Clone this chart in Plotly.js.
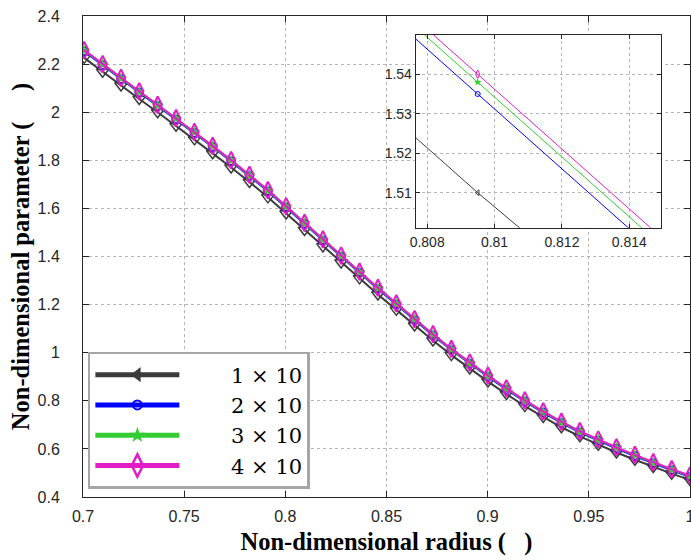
<!DOCTYPE html>
<html>
<head>
<meta charset="utf-8">
<script src="https://cdn.plot.ly/plotly-3.0.1.min.js"></script>
<style>html,body{margin:0;padding:0;background:#fff;}#chart{width:691px;height:560px;}</style>
</head>
<body>
<div id="chart"></div>
<script>
// Non-dimensional radius (x)
const radius = [0.7006, 0.7097, 0.7188, 0.7278, 0.7369, 0.7460, 0.7551, 0.7641, 0.7732, 0.7823,
  0.7914, 0.8004, 0.8095, 0.8186, 0.8276, 0.8367, 0.8458, 0.8549, 0.8639, 0.8730,
  0.8821, 0.8912, 0.9002, 0.9093, 0.9184, 0.9275, 0.9365, 0.9456, 0.9547, 0.9637,
  0.9728, 0.9819, 0.9910, 1.0000];

// Series: Non-dimensional parameter
const series1 = [2.226, 2.168, 2.111, 2.055, 2.000, 1.944, 1.887, 1.829, 1.770, 1.710,
  1.646, 1.579, 1.510, 1.442, 1.375, 1.309, 1.242, 1.178, 1.113, 1.051,
  0.990, 0.934, 0.880, 0.828, 0.778, 0.733, 0.690, 0.652, 0.617, 0.585,
  0.555, 0.525, 0.497, 0.471];
const series2 = [2.253, 2.195, 2.138, 2.082, 2.026, 1.970, 1.913, 1.855, 1.796, 1.735,
  1.671, 1.604, 1.535, 1.466, 1.399, 1.332, 1.265, 1.200, 1.135, 1.072,
  1.011, 0.954, 0.900, 0.847, 0.797, 0.751, 0.708, 0.669, 0.634, 0.601,
  0.570, 0.540, 0.511, 0.484];
const series3 = [2.256, 2.198, 2.141, 2.085, 2.029, 1.973, 1.916, 1.858, 1.799, 1.738,
  1.674, 1.607, 1.538, 1.469, 1.402, 1.335, 1.268, 1.203, 1.138, 1.075,
  1.014, 0.957, 0.903, 0.850, 0.800, 0.754, 0.711, 0.672, 0.637, 0.604,
  0.573, 0.543, 0.514, 0.487];
const series4 = [2.258, 2.200, 2.143, 2.087, 2.031, 1.975, 1.918, 1.860, 1.801, 1.740,
  1.676, 1.609, 1.540, 1.471, 1.404, 1.337, 1.270, 1.205, 1.140, 1.077,
  1.016, 0.959, 0.905, 0.852, 0.802, 0.756, 0.713, 0.674, 0.639, 0.606,
  0.575, 0.545, 0.516, 0.489];

const seriesNames = ['1 \u00d7 10', '2 \u00d7 10', '3 \u00d7 10', '4 \u00d7 10'];
const xTitle = '\u00a0\u00a0Non-dimensional radius (\u00a0\u00a0\u00a0)';
const yTitle = 'Non-dimensional parameter (\u00a0\u00a0\u00a0\u00a0\u00a0)\u00a0\u00a0\u00a0';

const colors = ['#3c3c3c', '#0000ff', '#33cc33', '#e21cc6'];
const allSeries = [series1, series2, series3, series4];
const mainMarkers = [
  {symbol: 'triangle-down-open', size: 11, line: {width: 1.5}},
  {symbol: 'circle-open', size: 8, line: {width: 1.5}},
  {symbol: 'star', size: 9, line: {width: 0}},
  {symbol: 'diamond-tall-open', size: 12, line: {width: 2}}
];
const insetMarkers = [
  {symbol: 'triangle-left-open', size: 5, line: {width: 1}},
  {symbol: 'circle-open', size: 5, line: {width: 1}},
  {symbol: 'star', size: 6, line: {width: 0}},
  {symbol: 'diamond-tall-open', size: 6, line: {width: 1}}
];
const legendMarkers = [
  {symbol: 'triangle-left', size: 13, line: {width: 0}},
  {symbol: 'circle-open', size: 9, line: {width: 2}},
  {symbol: 'star', size: 12, line: {width: 0}},
  {symbol: 'diamond-tall-open', size: 17, line: {width: 2.5}}
];

const traces = [];
allSeries.forEach((ys, i) => {
  traces.push({
    x: radius, y: ys, type: 'scatter', mode: 'lines+markers', showlegend: false,
    line: {color: colors[i], width: 2},
    marker: Object.assign({color: colors[i]}, mainMarkers[i], {line: Object.assign({color: colors[i]}, mainMarkers[i].line)}),
    xaxis: 'x', yaxis: 'y', hoverinfo: 'skip'
  });
});
allSeries.forEach((ys, i) => {
  traces.push({
    x: radius, y: ys, type: 'scatter', mode: 'lines+markers', showlegend: false,
    line: {color: colors[i], width: 1},
    marker: Object.assign({color: colors[i]}, insetMarkers[i], {line: Object.assign({color: colors[i]}, insetMarkers[i].line)}),
    xaxis: 'x2', yaxis: 'y2', hoverinfo: 'skip'
  });
});
// legend entries
allSeries.forEach((ys, i) => {
  traces.push({
    x: [null], y: [null], type: 'scatter', mode: 'lines+markers', name: '\u00a0\u00a0\u00a0\u00a0\u00a0\u00a0\u00a0' + seriesNames[i],
    line: {color: colors[i], width: 5},
    marker: Object.assign({color: colors[i]}, legendMarkers[i], {line: Object.assign({color: colors[i]}, legendMarkers[i].line)}),
    xaxis: 'x', yaxis: 'y'
  });
});

const tickFont = {family: 'Liberation Sans, Arial, sans-serif', size: 16, color: '#262626'};
const titleFont = {family: 'Liberation Serif, Times New Roman, serif', size: 24.5, color: '#000', weight: 'bold'};
const gridStyle = {showgrid: true, gridcolor: '#b4b4b4', griddash: 'dot', gridwidth: 1, zeroline: false,
  showline: true, linecolor: '#262626', linewidth: 1, mirror: 'ticks', ticks: 'inside', tickcolor: '#262626'};

const layout = {
  width: 691, height: 560,
  margin: {l: 83, r: 1, t: 16, b: 63},
  paper_bgcolor: '#ffffff', plot_bgcolor: '#ffffff',
  showlegend: true,
  legend: {
    x: 0.008, y: 0.3015, xanchor: 'left', yanchor: 'top',
    bgcolor: '#ffffff', bordercolor: '#a6a6a6', borderwidth: 2.5,
    font: {family: 'DejaVu Serif, serif', size: 21, color: '#000'},
    itemwidth: 84, tracegroupgap: 0
  },
  xaxis: Object.assign({}, gridStyle, {
    domain: [0, 1], range: [0.7, 1.00005], dtick: 0.05, tick0: 0.7, ticklen: 6,
    tickfont: tickFont, ticklabelstandoff: 5, ticklabeloverflow: 'allow',
    title: {text: xTitle, font: titleFont, standoff: 8}
  }),
  yaxis: Object.assign({}, gridStyle, {
    domain: [0, 1], range: [0.4, 2.4], dtick: 0.2, tick0: 0.4, ticklen: 6,
    tickfont: tickFont, ticklabelstandoff: 19,
    title: {text: yTitle, font: titleFont, standoff: 0}
  }),
  xaxis2: Object.assign({}, gridStyle, {
    domain: [0.5481, 0.9522], range: [0.80766, 0.81494], tickvals: [0.808, 0.81, 0.812, 0.814],
    ticktext: ['0.808', '0.81', '0.812', '0.814'], ticklen: 4, anchor: 'y2',
    tickfont: {family: 'Liberation Sans, Arial, sans-serif', size: 14, color: '#262626'}, ticklabelstandoff: 2
  }),
  yaxis2: Object.assign({}, gridStyle, {
    domain: [0.5599, 0.9605], range: [1.50114, 1.54995], tickvals: [1.51, 1.52, 1.53, 1.54],
    ticktext: ['1.51', '1.52', '1.53', '1.54'], ticklen: 4, anchor: 'x2',
    tickfont: {family: 'Liberation Sans, Arial, sans-serif', size: 14, color: '#262626'}, ticklabelstandoff: 0
  })
};

Plotly.newPlot('chart', traces, layout, {displayModeBar: false, staticPlot: true});
</script>
</body>
</html>
